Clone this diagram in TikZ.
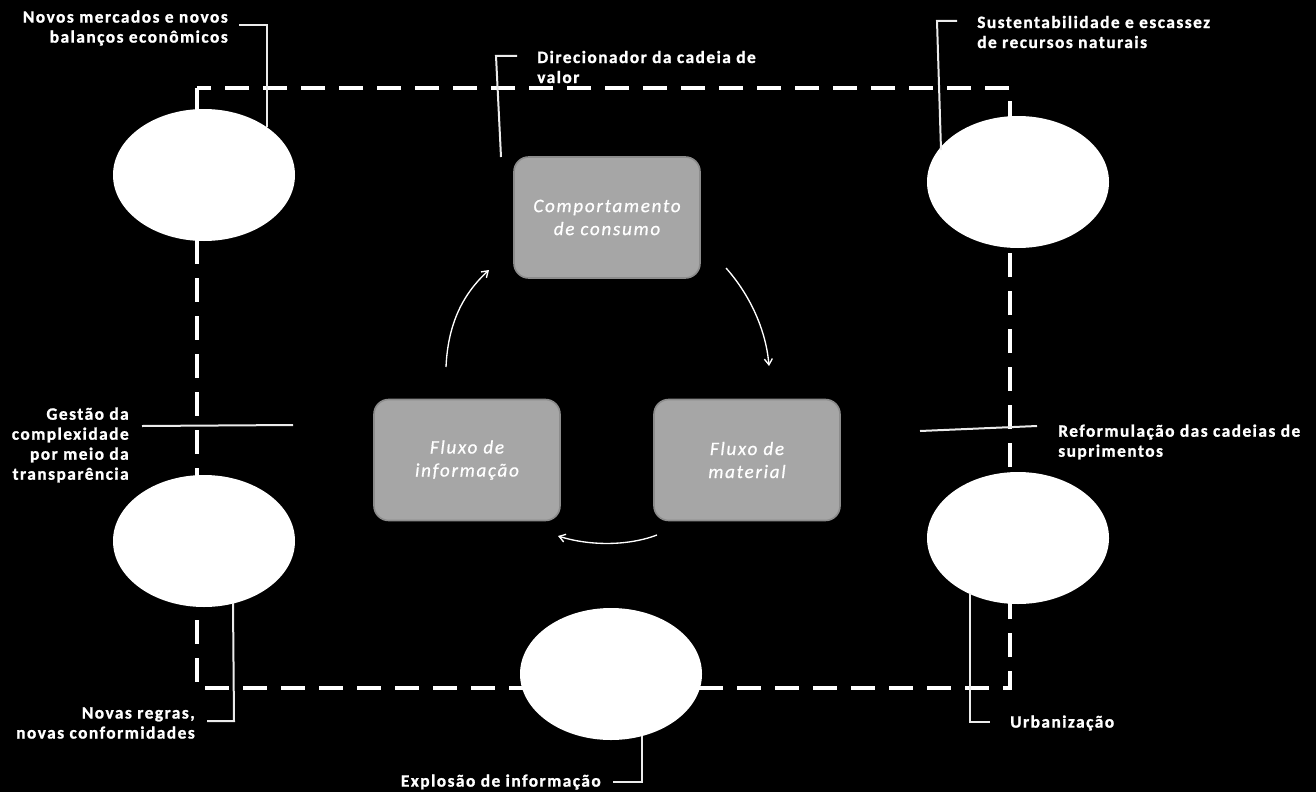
\documentclass[tikz,border=0pt]{standalone}
\usepackage{fontspec}
\setmainfont{Carlito}
\newfontfamily\labfont[LetterSpace=8.5,BoldFeatures={FakeBold=1.2}]{Carlito}
\newfontfamily\boxfont[LetterSpace=9,ItalicFeatures={FakeBold=0.7}]{Carlito}
\usetikzlibrary{arrows.meta,shapes.geometric}
\definecolor{boxgray}{RGB}{166,166,166}
\definecolor{boxedge}{RGB}{140,140,140}
\definecolor{calline}{RGB}{235,235,235}
\begin{document}
\begin{tikzpicture}[x=0.75pt,y=-0.75pt,
  lbl/.style={text=white,font=\labfont\bfseries\fontsize{13pt}{15pt}\selectfont,inner sep=0pt},
  boxtxt/.style={text=white,font=\boxfont\itshape\fontsize{14.3pt}{17.25pt}\selectfont},
  ell/.style={ellipse,fill=white,minimum width=136.5pt,minimum height=99pt,inner sep=0pt},
  box/.style={rectangle,rounded corners=11pt,fill=boxgray,draw=boxedge,line width=1.2pt,
    minimum width=139.5pt,minimum height=90.75pt,align=center,boxtxt},
  dashline/.style={draw=white,line width=3pt,dash pattern=on 18pt off 10.5pt},
  callout/.style={draw=calline,line width=1.5pt},
  flow/.style={draw=white,line width=1pt,-{Straight Barb[length=4.5pt,width=6pt]}}
]
\useasboundingbox[fill=black] (0,0) rectangle (1316,792);

% dashed frame
\draw[dashline] (197,88) rectangle (1010,688);

% ellipses
\node[ell] (eTL) at (204,175) {};
\node[ell] (eTR) at (1018,182) {};
\node[ell] (eBL) at (204,541) {};
\node[ell] (eBR) at (1018,538) {};
\node[ell] (eB)  at (611,674) {};

% central boxes
\node[box] (cons) at (607,217.5) {Comportamento\\de consumo};
\node[box] (info) at (467,460) {Fluxo de\\informação};
\node[box] (mat)  at (747,460) {Fluxo de\\material};

% flow arrows
\coordinate (a1s) at (446,367); \coordinate (a1e) at (489,270);
\coordinate (a2s) at (726,268); \coordinate (a2e) at (769,366);
\coordinate (a3s) at (657,535); \coordinate (a3e) at (558,536);
\draw[flow] (a1s) .. controls (448,322) and (464,293) .. (a1e);
\draw[flow] (a2s) .. controls (750,295) and (766,330) .. (a2e);
\draw[flow] (a3s) .. controls (628,546) and (590,546) .. (a3e);

% labels
\node[lbl,anchor=east,align=right] (l1) at (228,28) {Novos mercados e novos\\balanços econômicos};
\node[lbl,anchor=west,align=left] (l2) at (537,67) {Direcionador da cadeia de\\valor};
\node[lbl,anchor=west,align=left] (l3) at (977,32) {Sustentabilidade e escassez\\de recursos naturais};
\node[lbl,anchor=east,align=right] (l4) at (129,445) {Gestão da\\complexidade\\por meio da\\transparência};
\node[lbl,anchor=west,align=left] (l5) at (1058,442) {Reformulação das cadeias de\\suprimentos};
\node[lbl,anchor=east,align=right] (l6) at (195,723) {Novas regras,\\novas conformidades};
\node[lbl,anchor=east] (l7) at (601,782) {Explosão de informação};
\node[lbl,anchor=west] (l8) at (1010,723) {Urbanização};

% callout lines
\coordinate (c1a) at (239,25); \coordinate (c1b) at (267,25); \coordinate (c1c) at (267,127);
\draw[callout] (c1a) -- (c1b) -- (c1c);
\coordinate (c2a) at (517,56); \coordinate (c2b) at (496,56); \coordinate (c2c) at (501,157);
\draw[callout] (c2a) -- (c2b) -- (c2c);
\coordinate (c3a) at (957,21); \coordinate (c3b) at (937,21); \coordinate (c3c) at (941,150);
\draw[callout] (c3a) -- (c3b) -- (c3c);
\coordinate (c4a) at (142,426); \coordinate (c4b) at (293,425);
\draw[callout] (c4a) -- (c4b);
\coordinate (c5a) at (920,431); \coordinate (c5b) at (1037,426);
\draw[callout] (c5a) -- (c5b);
\coordinate (c6a) at (233,603); \coordinate (c6b) at (234,721); \coordinate (c6c) at (207,721);
\draw[callout] (c6a) -- (c6b) -- (c6c);
\coordinate (c7a) at (642,736); \coordinate (c7b) at (642,782); \coordinate (c7c) at (613,782);
\draw[callout] (c7a) -- (c7b) -- (c7c);
\coordinate (c8a) at (970,593); \coordinate (c8b) at (970,722); \coordinate (c8c) at (990,722);
\draw[callout] (c8a) -- (c8b) -- (c8c);
\end{tikzpicture}
\end{document}
